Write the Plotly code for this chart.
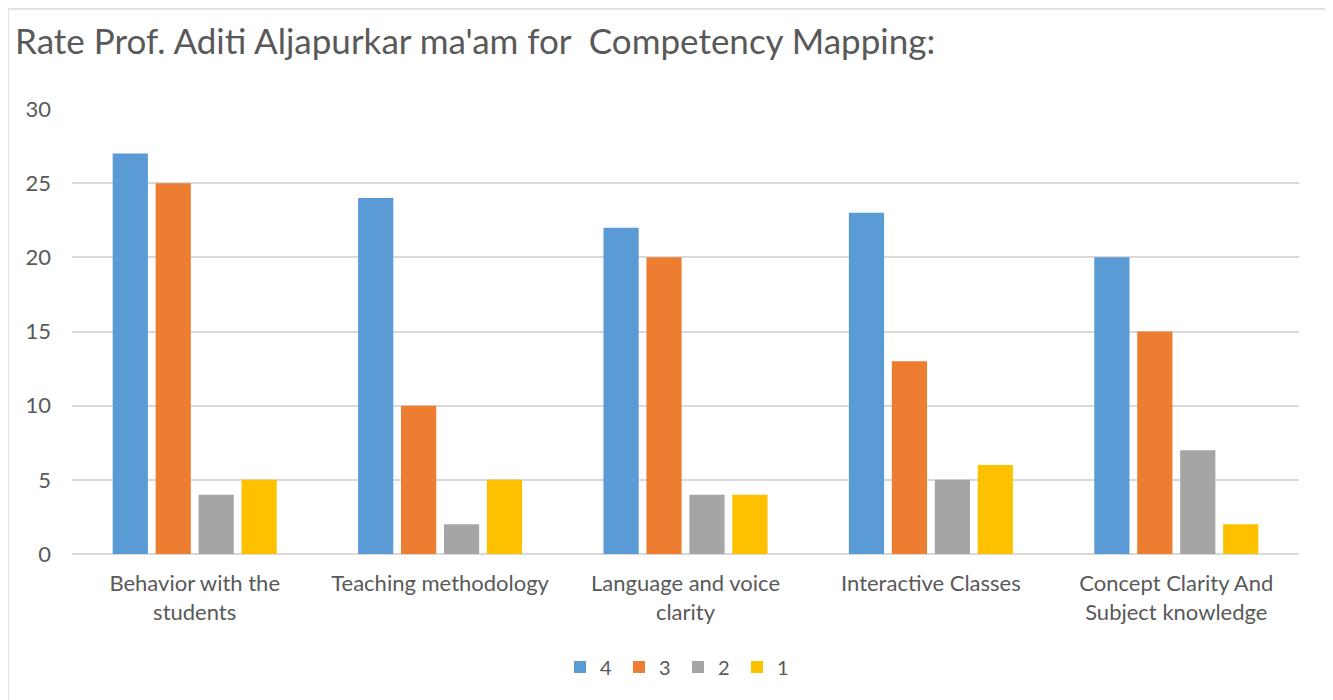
import plotly.graph_objects as go

categories = ["Behavior with the<br>students", "Teaching methodology", "Language and voice<br>clarity",
              "Interactive Classes", "Concept Clarity And<br>Subject knowledge"]
series_names = ["4", "3", "2", "1"]
s4 = [27, 24, 22, 23, 20]
s3 = [25, 10, 20, 13, 15]
s2 = [4, 2, 4, 5, 7]
s1 = [5, 5, 4, 6, 2]
colors = ["#5B9BD5", "#ED7D31", "#A5A5A5", "#FFC000"]
yticks = [0, 5, 10, 15, 20, 25, 30]

fig = go.Figure()
for name, vals, c in zip(series_names, [s4, s3, s2, s1], colors):
    fig.add_trace(go.Bar(name=name, x=categories, y=vals, marker=dict(color=c, line=dict(width=0))))

OFF = 8  # page offset of the figure
W, H = 1325, 692
L, R, T, B = 64, 34, 101, 146
pw, ph = W - L - R, H - T - B

def px_x(p):
    return (p - OFF - L) / pw

def px_y(p):
    return (H - B - (p - OFF)) / ph

font_fam = "Lato, 'Open Sans', sans-serif"
fig.update_layout(
    width=W, height=H,
    margin=dict(l=L, r=R, t=T, b=B),
    paper_bgcolor="white", plot_bgcolor="white",
    barmode="group", bargap=0.3, bargroupgap=0.18,
    font=dict(family=font_fam, color="#595959", size=22),
    title=dict(text="Rate Prof. Aditi Aljapurkar ma'am for  Competency Mapping:",
               x=(15 - OFF) / W, xanchor="left", y=1 - (42 - OFF) / H, yanchor="middle",
               font=dict(size=35, color="#595959", family=font_fam)),
    showlegend=True,
    legend=dict(orientation="h", x=px_x(678), xanchor="center", y=px_y(667), yanchor="middle",
                font=dict(size=20, color="#595959"), itemwidth=30, traceorder="normal",
                entrywidth=14, entrywidthmode="pixels"),
    xaxis=dict(showgrid=False, showline=False, ticks="", tickfont=dict(size=22), ticklabelstandoff=14),
    yaxis=dict(range=[0, 30], tickvals=yticks, showgrid=True, gridcolor="#D9D9D9", gridwidth=1.5,
               zeroline=True, zerolinecolor="#D9D9D9", zerolinewidth=1.5, ticks="",
               tickfont=dict(size=22), ticklabelstandoff=20),
    shapes=[dict(type="rect", xref="paper", yref="paper",
                 x0=px_x(8), x1=px_x(1330), y0=px_y(701), y1=px_y(9),
                 line=dict(color="#D9D9D9", width=1.5), fillcolor="rgba(0,0,0,0)", layer="below")],
)

fig.write_html("out.html")
